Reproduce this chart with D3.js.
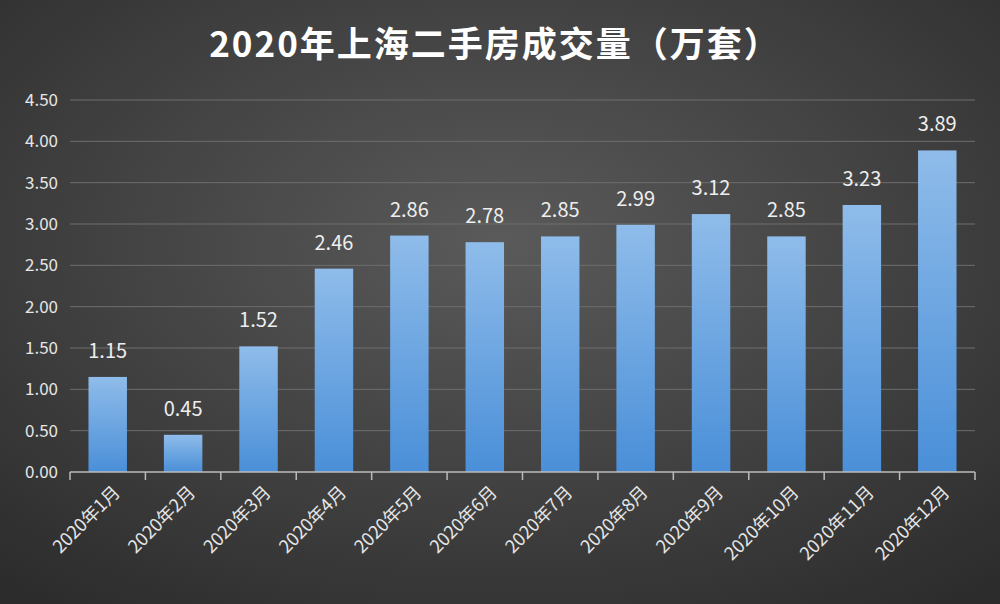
<!DOCTYPE html>
<html><head><meta charset="utf-8">
<script src="https://cdn.jsdelivr.net/npm/d3@7"></script>
<style>body{margin:0;background:#333}svg{display:block}</style>
</head><body><svg id="plot" width="1000" height="604"></svg>
<script>
'use strict';
const months = ['2020年1月','2020年2月','2020年3月','2020年4月','2020年5月','2020年6月','2020年7月','2020年8月','2020年9月','2020年10月','2020年11月','2020年12月'];
const volumes = [1.15, 0.45, 1.52, 2.46, 2.86, 2.78, 2.85, 2.99, 3.12, 2.85, 3.23, 3.89];
const yTicks = [0, 0.5, 1, 1.5, 2, 2.5, 3, 3.5, 4, 4.5];
const title = '2020年上海二手房成交量（万套）';

const svg = d3.select('#plot');
const font = '"Noto Sans CJK SC", "Open Sans", sans-serif';
const defs = svg.append('defs');
const bg = defs.append('radialGradient').attr('id', 'bg').attr('cx', '50%').attr('cy', '40%').attr('r', '75%');
bg.append('stop').attr('offset', '0%').attr('stop-color', '#5a5a5a');
bg.append('stop').attr('offset', '100%').attr('stop-color', '#2c2c2c');
const bar = defs.append('linearGradient').attr('id', 'bar').attr('x1', 0).attr('y1', 0).attr('x2', 0).attr('y2', 1);
bar.append('stop').attr('offset', '0%').attr('stop-color', '#8fbcea');
bar.append('stop').attr('offset', '100%').attr('stop-color', '#4a8fd8');

svg.append('rect').attr('width', 1000).attr('height', 604).attr('fill', 'url(#bg)');

const x = d3.scaleBand().domain(months).range([70, 975]).paddingInner(0.49).paddingOuter(0.245);
const y = d3.scaleLinear().domain([0, 4.5]).range([472, 100]);

svg.append('text').attr('x', 495).attr('y', 57).attr('text-anchor', 'middle')
    .attr('fill', '#fff').attr('font-family', font).attr('font-size', 35).attr('font-weight', 'bold')
    .attr('letter-spacing', 2)
    .text(title);

svg.append('g').selectAll('line').data(yTicks.slice(1)).join('line')
    .attr('x1', 70).attr('x2', 975).attr('y1', d => y(d)).attr('y2', d => y(d))
    .attr('stroke', '#6e6e6e').attr('stroke-width', 1);

svg.append('g').attr('transform', 'translate(70,0)')
    .call(d3.axisLeft(y).tickValues(yTicks).tickFormat(d3.format('.2f')).tickSize(0).tickPadding(12))
    .call(g => g.select('.domain').remove())
    .call(g => g.selectAll('text').attr('fill', '#e6e6e6').attr('font-size', 17).attr('font-family', font));

svg.append('g').selectAll('rect').data(volumes).join('rect')
    .attr('x', (d, i) => x(months[i])).attr('width', x.bandwidth())
    .attr('y', d => y(d)).attr('height', d => y(0) - y(d))
    .attr('fill', 'url(#bar)');

svg.append('g').selectAll('text').data(volumes).join('text')
    .attr('x', (d, i) => x(months[i]) + x.bandwidth() / 2).attr('y', d => y(d) - 19)
    .attr('text-anchor', 'middle').attr('fill', '#eee').attr('font-size', 20).attr('font-family', font)
    .text(d => d.toFixed(2));

// category axis with ticks between bars
const xAxis = svg.append('g');
xAxis.append('line').attr('x1', 70).attr('x2', 975).attr('y1', y(0)).attr('y2', y(0)).attr('stroke', '#bbb').attr('stroke-width', 1.5);
xAxis.selectAll('.tk').data(d3.range(months.length + 1)).join('line')
    .attr('x1', i => 70 + i * (905 / 12)).attr('x2', i => 70 + i * (905 / 12))
    .attr('y1', y(0)).attr('y2', y(0) + 8).attr('stroke', '#bbb').attr('stroke-width', 1.5);
xAxis.selectAll('text').data(months).join('text')
    .attr('transform', d => `translate(${x(d) + x.bandwidth() / 2 + 10},${y(0) + 18}) rotate(-45)`)
    .attr('text-anchor', 'end').attr('dominant-baseline', 'middle')
    .attr('fill', '#e6e6e6').attr('font-size', 18).attr('font-family', font)
    .text(d => d);
</script></body></html>
